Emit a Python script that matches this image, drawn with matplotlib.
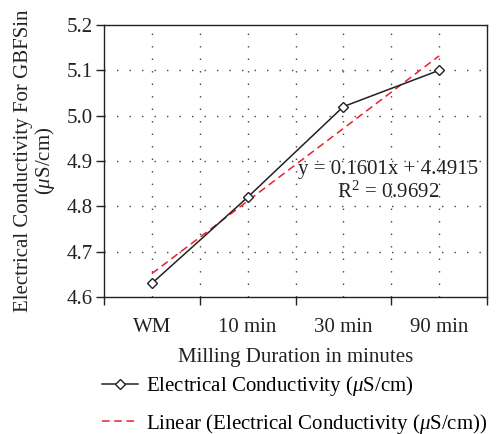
import matplotlib
matplotlib.use("Agg")
import matplotlib.pyplot as plt
from matplotlib.lines import Line2D
import numpy as np

categories = ["WM", "10 min", "30 min", "90 min"]
conductivity = [4.63, 4.82, 5.02, 5.10]
slope = 0.1601
intercept = 4.4915
r2 = 0.9692

plt.rcParams['font.family'] = ['Liberation Serif', 'DejaVu Serif']
plt.rcParams['mathtext.fontset'] = 'custom'
plt.rcParams['mathtext.it'] = 'Liberation Serif:italic'
plt.rcParams['mathtext.rm'] = 'Liberation Serif'

FS = 15
TXT = '#222222'

fig = plt.figure(figsize=(4.96, 4.34), dpi=100)
ax = fig.add_axes([104/496, 1-297/434, 383/496, 272/434])

x = np.arange(len(categories))
ax.plot(x, conductivity, color='#222222', lw=1.1, marker='D', ms=5.5,
        mfc='white', mec='#222222', mew=1.0, zorder=3)
xfit = np.array([1, len(categories)])
ax.plot(x[[0, -1]], slope*xfit + intercept, color='#e8212b', lw=1.1,
        dashes=(5, 3), zorder=2)

ax.set_xlim(-0.5, len(categories)-0.5)
ax.set_ylim(4.6, 5.2)
yt = np.arange(4.6, 5.21, 0.1)
ax.set_yticks(yt)
ax.set_yticklabels([f"{v:.1f}" for v in yt])
ax.set_xticks(np.arange(-0.5, len(categories), 1.0))
ax.set_xticklabels([])
ax.set_xticks(x, minor=True)
ax.set_xticklabels(categories, minor=True)
ax.tick_params(axis='x', which='minor', length=0, pad=15, labelsize=FS, colors=TXT)
ax.tick_params(axis='x', which='major', length=6, direction='out', width=1.0, color=TXT)
ax.tick_params(axis='y', length=6, direction='out', width=1.0, labelsize=FS, pad=2,
               colors=TXT)
for s in ax.spines.values():
    s.set_color(TXT)
    s.set_linewidth(1.0)

for v in yt[1:-1]:
    ax.axhline(v, color='#444444', lw=1.0, ls=(0, (1, 8)), zorder=1)
for v in np.arange(0, len(categories)-0.5, 0.5):
    ax.axvline(v, color='#444444', lw=1.0, ls=(0, (1, 8)), zorder=1)

ax.set_xlabel("Milling Duration in minutes", fontsize=FS, labelpad=8, color=TXT)
ax.set_ylabel("Electrical Conductivity For GBFSin\n($\\mathit{\\mu}$S/cm)", fontsize=FS,
              labelpad=7, color=TXT, linespacing=1.0)

ax.text(2.47, 4.855, f"y = {slope:.4f}x + {intercept:.4f}\nR$^2$ = {r2:.4f}", fontsize=FS,
        ha='center', va='center', color=TXT, linespacing=1.2)

handles = [
    Line2D([], [], color='#222222', lw=1.1, marker='D', ms=5, mfc='white', mec='#222222'),
    Line2D([], [], color='#e8212b', lw=1.1, dashes=(5, 3)),
]
labels = ["Electrical Conductivity ($\\mathit{\\mu}$S/cm)",
          "Linear (Electrical Conductivity ($\\mathit{\\mu}$S/cm))"]
fig.legend(handles, labels, loc='upper left', bbox_to_anchor=(102/496, 1-374/434),
           frameon=False, fontsize=FS, handlelength=1.75, handletextpad=0.35,
           labelspacing=0.65, borderaxespad=0, borderpad=0)

fig.savefig("out.png", dpi=100)
